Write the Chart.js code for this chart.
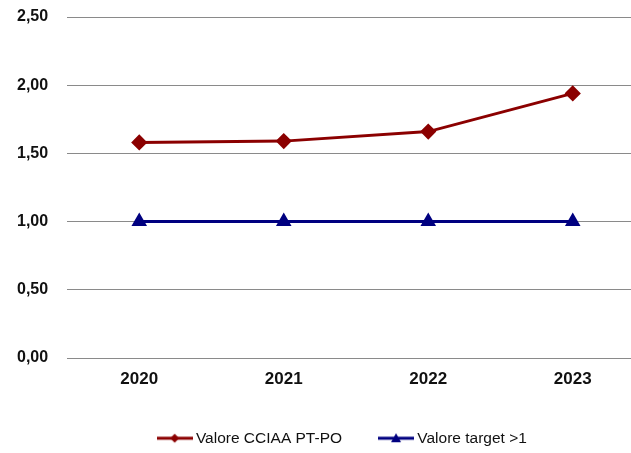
<!DOCTYPE html>
<html>
<head>
<meta charset="utf-8">
<script src="https://cdn.jsdelivr.net/npm/chart.js@4.4.0/dist/chart.umd.min.js"></script>
<style>
  html, body { margin: 0; padding: 0; background: #fff; overflow: hidden; }
  #wrap { width: 696px; height: 453px; }
</style>
</head>
<body>
<div id="wrap"><canvas id="chart"></canvas></div>
<script>
// ── Data ──
const years = ['2020', '2021', '2022', '2023'];
const valoreCciaa = [1.58, 1.59, 1.66, 1.94];
const valoreTarget = [1.00, 1.00, 1.00, 1.00];
const seriesNames = ['Valore CCIAA PT-PO', 'Valore target >1'];

const RED = '#8b0000';
const BLUE = '#000080';
const FONT = "'Liberation Sans', Arial, sans-serif";

// legend swatch: short line with the marker in the middle
function swatch(color, shape) {
  const c = document.createElement('canvas');
  c.width = 36; c.height = 12;
  const g = c.getContext('2d');
  g.strokeStyle = color;
  g.lineWidth = 3;
  g.beginPath(); g.moveTo(0, 6); g.lineTo(36, 6); g.stroke();
  g.fillStyle = color;
  g.beginPath();
  if (shape === 'diamond') {
    g.moveTo(18, 1.5); g.lineTo(22.5, 6); g.lineTo(18, 10.5); g.lineTo(13.5, 6);
  } else {
    g.moveTo(18, 1); g.lineTo(23, 10); g.lineTo(13, 10);
  }
  g.closePath(); g.fill();
  return c;
}
const swatches = [swatch(RED, 'diamond'), swatch(BLUE, 'triangle')];

const fmt = v => v.toFixed(2).replace('.', ',');

// the legend sits a bit right of the centre, as in the original
const legendShift = {
  id: 'legendShift',
  afterLayout(chart) {
    chart.legend.left += 13;
    chart.legend.right += 13;
  },
};

new Chart(document.getElementById('chart'), {
  type: 'line',
  data: {
    labels: years,
    datasets: [
      {
        label: seriesNames[0],
        data: valoreCciaa,
        borderColor: RED,
        backgroundColor: RED,
        borderWidth: 3,
        pointStyle: 'rectRot',
        pointRadius: 6,
        pointHoverRadius: 6,
        tension: 0,
      },
      {
        label: seriesNames[1],
        data: valoreTarget,
        borderColor: BLUE,
        backgroundColor: BLUE,
        borderWidth: 3,
        pointStyle: 'triangle',
        pointRadius: 6,
        pointHoverRadius: 6,
        tension: 0,
      },
    ],
  },
  plugins: [legendShift],
  options: {
    responsive: true,
    maintainAspectRatio: false,
    animation: false,
    layout: { padding: { top: 17, left: 17, right: 51, bottom: -3 } },
    scales: {
      x: {
        offset: true,
        grid: { display: false },
        border: { display: false },
        afterFit: s => { s.height = 32; },
        ticks: {
          color: '#111',
          padding: 3,
          font: { family: FONT, size: 17, weight: 'bold' },
        },
      },
      y: {
        min: 0,
        max: 2.5,
        afterFit: s => { s.width = 50; },
        grid: { color: '#8a8a8a', lineWidth: 1, drawTicks: false },
        border: { display: false },
        ticks: {
          stepSize: 0.5,
          padding: 0,
          crossAlign: 'far',
          color: '#111',
          callback: v => fmt(v),
          font: { family: FONT, size: 16, weight: 'bold' },
        },
      },
    },
    plugins: {
      legend: {
        position: 'bottom',
        labels: {
          usePointStyle: true,
          pointStyleWidth: 27,
          padding: 40.5,
          color: '#111',
          font: { family: FONT, size: 15.5 },
          generateLabels: chart => chart.data.datasets.map((ds, i) => ({
            text: ds.label,
            pointStyle: swatches[i],
            fillStyle: ds.borderColor,
            strokeStyle: ds.borderColor,
            lineWidth: 0,
            fontColor: '#111',
            datasetIndex: i,
          })),
        },
      },
      tooltip: { enabled: false },
    },
  },
});
</script>
</body>
</html>
